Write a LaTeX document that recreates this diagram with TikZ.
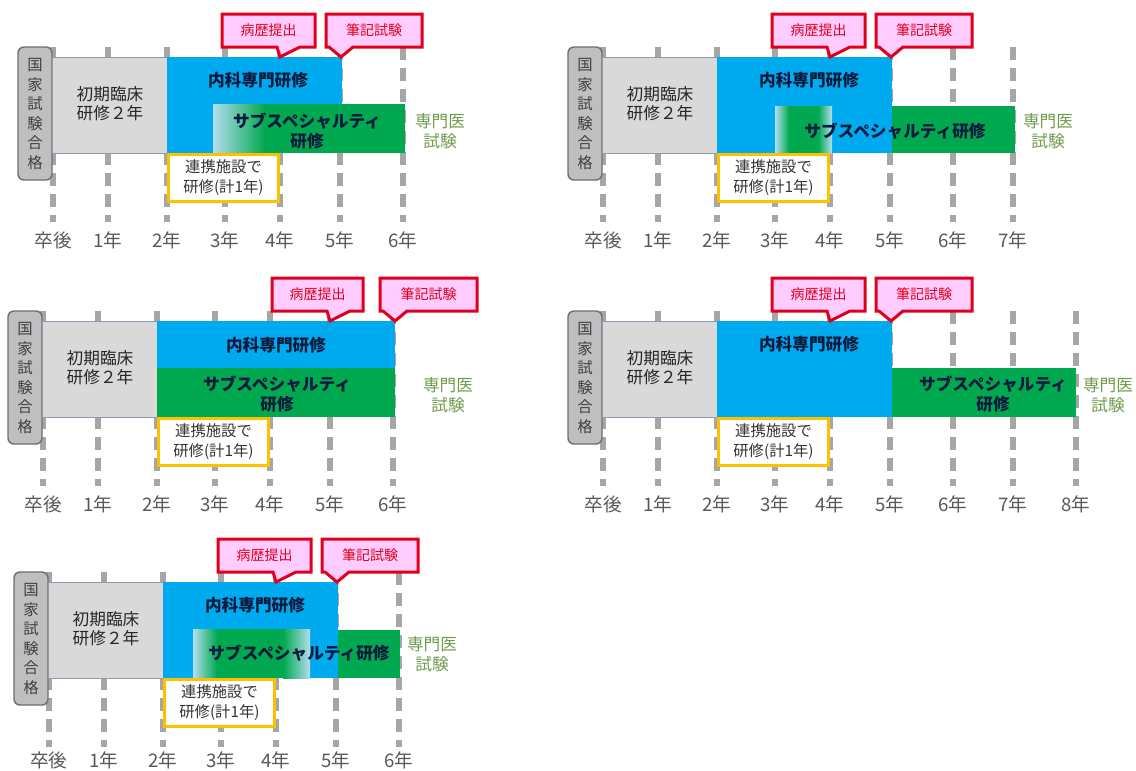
\documentclass[tikz,border=0pt]{standalone}
\usepackage{fontspec}
\setmainfont{Noto Sans CJK JP}
\definecolor{kblue}{HTML}{00AAEE}
\definecolor{kgreen}{HTML}{00A84F}
\definecolor{kgray}{HTML}{D9D9D9}
\definecolor{kgrayline}{HTML}{8C9BB0}
\definecolor{kpass}{HTML}{BFBFBF}
\definecolor{kpassline}{HTML}{6F6F6F}
\definecolor{ktick}{HTML}{A6A6A6}
\definecolor{kyellow}{HTML}{FFC000}
\definecolor{kred}{HTML}{E0001B}
\definecolor{kpink}{HTML}{FFCCFF}
\definecolor{ktext}{HTML}{0C1A3E}
\definecolor{kolive}{HTML}{6F9B4C}
\definecolor{klab}{HTML}{595959}
\definecolor{kfade}{HTML}{B3DEF0}
\tikzset{
  yrline/.style={draw=ktick, line width=4.1pt, dash pattern=on 9.75pt off 6pt},
  yrlab/.style={inner sep=0pt, text=klab, font=\fontsize{14}{16}\selectfont},
  passbox/.style={fill=kpass, draw=kpassline, line width=1.1pt, rounded corners=4.5pt},
  passtxt/.style={inner sep=0pt, align=center, text=black!75, font=\fontsize{11.5}{14.7}\selectfont},
  initbox/.style={fill=kgray, draw=kgrayline, line width=0.75pt},
  boxtxt/.style={inner sep=0pt, align=center, text=black!85, font=\fontsize{12.5}{14}\selectfont},
  boldtxt/.style={inner sep=0pt, align=center, text=ktext, font=\fontsize{12.5}{15}\selectfont\bfseries},
  olivetxt/.style={inner sep=0pt, align=center, text=kolive, font=\fontsize{12.5}{15}\selectfont},
  yelbox/.style={fill=white, draw=kyellow, line width=2.25pt},
  yeltxt/.style={inner sep=0pt, align=center, text=black!80, font=\fontsize{11.5}{15}\selectfont},
  callout/.style={fill=kpink, draw=kred, line width=2.25pt, line join=miter},
  callouttxt/.style={inner sep=0pt, text=kred, font=\fontsize{10.5}{12}\selectfont},
}
% common elements of one panel: prefix, ticks, label y
\newcommand\kbase[3]{%
  \foreach \xx/\lab [count=\i] in {#2} {
    \draw[yrline] (\xx,47) -- (\xx,222);
    \node[yrlab] (#1-y\i) at (\xx,#3) {\lab};
  }
  \draw[passbox] (-35,47) rectangle (-1,180);
  \node[passtxt] (#1-pass) at (-18,114) {国\\家\\試\\験\\合\\格};
  \draw[initbox] (-1,57) rectangle (114,153);
  \node[boxtxt] (#1-init) at (57,104) {初期臨床\\研修２年};
}
\newcommand\kyel[1]{%
  \draw[yelbox] (115.5,154.5) rectangle (225.5,201.5);
  \node[yeltxt] (#1-yel) at (170.5,178) {連携施設で\\研修(計1年)};
}
% name, x1, x2, base1, base2, tip x, text
\newcommand\kcall[7]{%
  \draw[callout] (#2,14) -- (#3,14) -- (#3,47) -- (#5,47) -- (#6,57) -- (#4,47) -- (#2,47) -- cycle;
  \node[callouttxt] (#1) at ({(#2+#3)/2},30.5) {#7};
}
\begin{document}
\begin{tikzpicture}[x=0.75pt,y=-0.75pt]
\useasboundingbox (0,0) rectangle (1136,771);
\fill[white] (0,0) rectangle (1136,771);

% ---------- Panel A ----------
\begin{scope}[shift={(53,0)}]
  \kbase{a}{0/卒後,55/1年,114/2年,172/3年,227/4年,287/5年,350/6年}{240}
  \fill[kblue] (114,57) rectangle (289,153);
  \node[boldtxt] (a-naika) at (205,80) {内科専門研修};
  \shade[left color=kfade, right color=kgreen] (160,104) rectangle (212,153);
  \fill[kgreen] (211.5,104) rectangle (352,153);
  \node[boldtxt] (a-sub) at (254,131) {サブスペシャルティ\\研修};
  \node[olivetxt] (a-exam) at (387,131) {専門医\\試験};
  \kyel{a}
  \kcall{a-c1}{169}{262}{224}{247}{227}{病歴提出}
  \kcall{a-c2}{273}{369}{276}{300}{288}{筆記試験}
\end{scope}

% ---------- Panel B ----------
\begin{scope}[shift={(603,0)}]
  \kbase{b}{0/卒後,55/1年,114/2年,172/3年,227/4年,287/5年,350/6年,410/7年}{240}
  \fill[kblue] (114,57) rectangle (289,153);
  \node[boldtxt] (b-naika) at (206,80) {内科専門研修};
  \shade[left color=kfade, right color=kgreen] (172,106) rectangle (186,153);
  \fill[kgreen] (185.5,106) rectangle (215.5,153);
  \shade[left color=kgreen, right color=kfade] (215,106) rectangle (229,153);
  \fill[kgreen] (289,106) rectangle (412,153);
  \node[boldtxt] (b-sub) at (292,131) {サブスペシャルティ研修};
  \node[olivetxt] (b-exam) at (445,131) {専門医\\試験};
  \kyel{b}
  \kcall{b-c1}{169}{262}{224}{247}{227}{病歴提出}
  \kcall{b-c2}{273}{369}{276}{300}{288}{筆記試験}
\end{scope}

% ---------- Panel C ----------
\begin{scope}[shift={(43,264)}]
  \kbase{c}{0/卒後,55/1年,114/2年,172/3年,227/4年,287/5年,350/6年}{240}
  \fill[kblue] (114,57) rectangle (352,104);
  \node[boldtxt] (c-naika) at (233,81) {内科専門研修};
  \fill[kgreen] (114,104) rectangle (352,153);
  \node[boldtxt] (c-sub) at (234,130) {サブスペシャルティ\\研修};
  \node[olivetxt] (c-exam) at (405,131) {専門医\\試験};
  \kyel{c}
  \kcall{c-c1}{229}{320}{284}{307}{287}{病歴提出}
  \kcall{c-c2}{337}{434}{340}{364}{352}{筆記試験}
\end{scope}

% ---------- Panel D ----------
\begin{scope}[shift={(603,264)}]
  \kbase{d}{0/卒後,55/1年,114/2年,172/3年,227/4年,287/5年,350/6年,410/7年,473/8年}{240}
  \fill[kblue] (114,57) rectangle (289,153);
  \node[boldtxt] (d-naika) at (206,80) {内科専門研修};
  \fill[kgreen] (289,104) rectangle (473,153);
  \node[boldtxt] (d-sub) at (390,130) {サブスペシャルティ\\研修};
  \node[olivetxt] (d-exam) at (505,131) {専門医\\試験};
  \kyel{d}
  \kcall{d-c1}{169}{262}{224}{247}{227}{病歴提出}
  \kcall{d-c2}{273}{369}{276}{300}{288}{筆記試験}
\end{scope}

% ---------- Panel E ----------
\begin{scope}[shift={(49,525)}]
  \kbase{e}{0/卒後,55/1年,114/2年,172/3年,227/4年,287/5年,350/6年}{235}
  \fill[kblue] (114,57) rectangle (289,153);
  \node[boldtxt] (e-naika) at (206,80) {内科専門研修};
  \shade[left color=kfade, right color=kgreen] (144,104) rectangle (168,153);
  \fill[kgreen] (167.5,104) rectangle (234.5,153);
  \shade[left color=kgreen, right color=kfade] (234,104) rectangle (261,153);
  \fill[kgreen] (289,105) rectangle (351,153);
  \node[boldtxt] (e-sub) at (250,128) {サブスペシャルティ研修};
  \node[olivetxt] (e-exam) at (383,129) {専門医\\試験};
  \kyel{e}
  \kcall{e-c1}{169}{262}{224}{247}{227}{病歴提出}
  \kcall{e-c2}{273}{369}{276}{300}{288}{筆記試験}
\end{scope}
\end{tikzpicture}
\end{document}
